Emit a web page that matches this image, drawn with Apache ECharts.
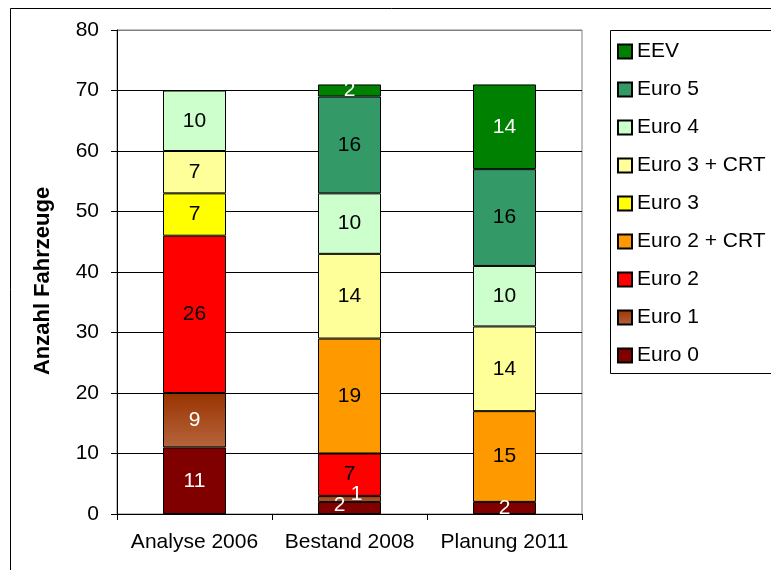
<!DOCTYPE html>
<html>
<head>
<meta charset="utf-8">
<script src="https://cdn.jsdelivr.net/npm/echarts@6/dist/echarts.min.js"></script>
<style>
  html, body {margin: 0; padding: 0; background: #fff;}
  #chart {width: 771px; height: 570px;}
</style>
</head>
<body>
<div id="chart"></div>
<script>
const categories = ['Analyse 2006', 'Bestand 2008', 'Planung 2011'];
const seriesNames = ['Euro 0', 'Euro 1', 'Euro 2', 'Euro 2 + CRT', 'Euro 3', 'Euro 3 + CRT', 'Euro 4', 'Euro 5', 'EEV'];
const euro0 = [11, 2, 2];
const euro1 = [9, 1, 0];
const euro2 = [26, 7, 0];
const euro2crt = [0, 19, 15];
const euro3 = [7, 0, 0];
const euro3crt = [7, 14, 14];
const euro4 = [10, 10, 10];
const euro5 = [0, 16, 16];
const eev = [0, 2, 14];
const yTicks = [0, 10, 20, 30, 40, 50, 60, 70, 80];

const values = [euro0, euro1, euro2, euro2crt, euro3, euro3crt, euro4, euro5, eev];
const colors = [
  '#800000',
  new echarts.graphic.LinearGradient(0, 0, 0, 1, [
    {offset: 0, color: '#993300'},
    {offset: 1, color: '#b5653d'}
  ]),
  '#ff0000', '#ff9900', '#ffff00', '#ffff99', '#ccffcc', '#339966', '#008000'
];
const labelColors = ['#fff', '#fff', '#000', '#000', '#000', '#000', '#000', '#000', '#fff'];
// Excel nudged two small labels in the middle bar
const labelOffsets = {'0-1': [-10, -3], '1-1': [7, -5]};

const font = '"Liberation Sans", Arial, sans-serif';

const chart = echarts.init(document.getElementById('chart'));
chart.setOption({
  animation: false,
  textStyle: {fontFamily: font},
  graphic: [
    {type: 'rect', shape: {x: 10.5, y: 8.5, width: 900, height: 700},
      style: {fill: null, stroke: '#000', lineWidth: 1}, z: -10},
    {type: 'rect', shape: {x: 610.5, y: 30.5, width: 300, height: 343},
      style: {fill: '#fff', stroke: '#000', lineWidth: 1}, z: -5}
  ],
  legend: {
    data: seriesNames.slice().reverse(),
    orient: 'vertical',
    left: 617,
    top: 41,
    padding: 0,
    itemWidth: 14,
    itemHeight: 14,
    itemGap: 17,
    icon: 'rect',
    textStyle: {fontSize: 21, color: '#000', lineHeight: 21, fontFamily: font}
  },
  grid: {
    left: 117, top: 30, right: 189, bottom: 56,
    show: true, borderColor: '#808080', borderWidth: 1
  },
  xAxis: {
    type: 'category',
    data: categories,
    axisLine: {lineStyle: {color: '#000'}},
    axisTick: {show: true, length: 6, lineStyle: {color: '#000'}},
    axisLabel: {color: '#000', fontSize: 21, margin: 18, interval: 0, fontFamily: font}
  },
  yAxis: {
    type: 'value',
    min: yTicks[0],
    max: yTicks[yTicks.length - 1],
    interval: 10,
    name: 'Anzahl Fahrzeuge',
    nameLocation: 'middle',
    nameGap: 63,
    nameTextStyle: {fontSize: 22, fontWeight: 'bold', color: '#000', fontFamily: font,
      padding: [0, 18, 0, 0]},
    axisLine: {show: true, lineStyle: {color: '#000'}},
    axisTick: {show: true, length: 6, lineStyle: {color: '#000'}},
    axisLabel: {color: '#000', fontSize: 21, margin: 18, fontFamily: font},
    splitLine: {
      show: true,
      lineStyle: {color: yTicks.map((t, i) => i === yTicks.length - 1 ? '#808080' : '#000')}
    }
  },
  series: seriesNames.map((name, s) => ({
    name,
    type: 'bar',
    stack: 'total',
    barWidth: 63,
    itemStyle: {color: colors[s], borderColor: '#000', borderWidth: 1},
    label: {
      show: true,
      position: 'inside',
      color: labelColors[s],
      fontSize: 21,
      fontFamily: font,
      formatter: p => p.value ? String(p.value) : ''
    },
    data: values[s].map((v, c) => {
      if (!v) return '-';
      const off = labelOffsets[s + '-' + c];
      return off ? {value: v, label: {offset: off}} : v;
    })
  }))
});
</script>
</body>
</html>
